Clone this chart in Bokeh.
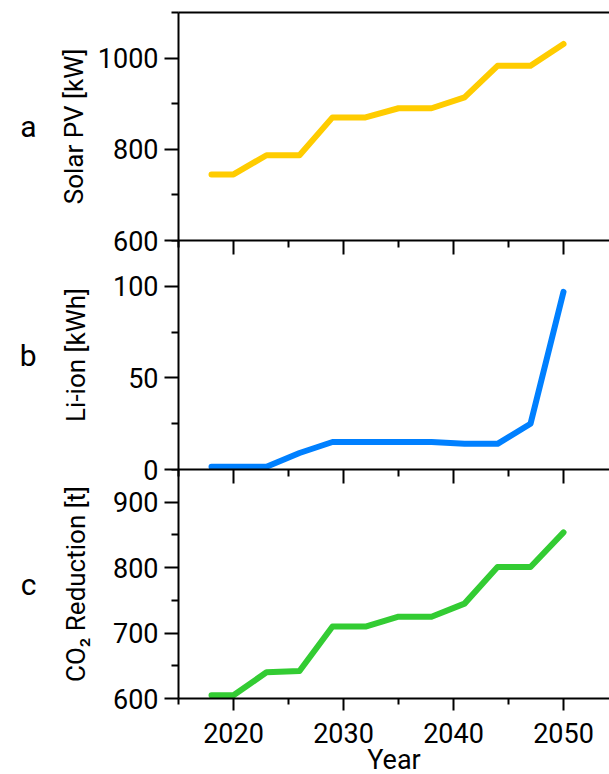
from bokeh.plotting import figure
from bokeh.models import FixedTicker, LinearAxis, Range1d, ColumnDataSource
from bokeh.layouts import column
from bokeh.embed import file_html
from bokeh.resources import INLINE

# ---- data ----
years = [2018, 2020, 2023, 2026, 2029, 2032, 2035, 2038, 2041, 2044, 2047, 2050]
solar_pv_kw = [745, 745, 787, 787, 870, 870, 890, 890, 914, 983, 983, 1031]
li_ion_kwh = [1.5, 1.5, 1.5, 9, 15, 15, 15, 15, 14, 14, 25, 97]
co2_reduction_t = [605, 605, 640, 642, 710, 710, 725, 725, 745, 801, 801, 854]

x_major = [2020, 2030, 2040, 2050]
x_minor = [2015, 2025, 2035, 2045]

solar_major = [600, 800, 1000]
solar_minor = [700, 900, 1100]
li_major = [0, 50, 100]
li_minor = [25, 75, 125]
co2_major = [600, 700, 800, 900]
co2_minor = [650, 750, 850, 950]

FONT = "Roboto"
TICK_SIZE = "27px"
LABEL_SIZE = "26px"
OVERLAP = 70


def make_panel(yr, ymaj, ymin, ylabel, color, values, frame_h,
               panel_letter, letter_standoff, label_standoff,
               border_top, first, last):
    p = figure(frame_width=431, frame_height=frame_h,
               x_range=Range1d(2015, 2054.18), y_range=Range1d(*yr),
               output_backend="svg", toolbar_location=None,
               x_axis_location=None, y_axis_location="left",
               min_border_left=178, min_border_right=0,
               min_border_top=border_top,
               min_border_bottom=0 if last else OVERLAP)
    p.outline_line_color = None
    p.xgrid.visible = False
    p.ygrid.visible = False
    p.background_fill_alpha = 0
    p.border_fill_alpha = 0

    ya = p.yaxis[0]
    ya.ticker = FixedTicker(ticks=ymaj, minor_ticks=ymin)
    ya.major_tick_in = 0
    ya.major_tick_out = 14
    ya.minor_tick_in = 0
    ya.minor_tick_out = 7
    ya.axis_line_width = 2
    ya.major_tick_line_width = 2
    ya.minor_tick_line_width = 2
    ya.axis_line_color = "black"
    ya.major_tick_line_color = "black"
    ya.minor_tick_line_color = "black"
    ya.major_label_text_font = FONT
    ya.major_label_text_font_size = TICK_SIZE
    ya.major_label_text_color = "black"
    ya.major_label_standoff = 6
    ya.axis_label = ylabel
    ya.axis_label_text_font = FONT
    ya.axis_label_text_font_size = LABEL_SIZE
    ya.axis_label_text_font_style = "normal"
    ya.axis_label_text_color = "black"
    ya.axis_label_standoff = label_standoff

    # panel letter: an extra, tick-less left axis carrying only a horizontal label
    letter_axis = LinearAxis(ticker=FixedTicker(ticks=[]),
                             axis_line_color=None, major_tick_out=0, major_tick_in=0,
                             minor_tick_out=0, minor_tick_in=0,
                             axis_label=panel_letter,
                             axis_label_orientation="horizontal",
                             axis_label_text_font=FONT,
                             axis_label_text_font_size="30px",
                             axis_label_text_font_style="normal",
                             axis_label_text_color="black",
                             axis_label_standoff=letter_standoff)
    p.add_layout(letter_axis, "left")

    if first:
        top = LinearAxis(ticker=FixedTicker(ticks=[]), axis_line_width=2,
                         major_tick_out=0, major_tick_in=0,
                         minor_tick_out=0, minor_tick_in=0)
        p.add_layout(top, "above")

    if last:
        bot = LinearAxis(ticker=FixedTicker(ticks=x_major, minor_ticks=x_minor),
                         major_tick_in=0, major_tick_out=12,
                         minor_tick_in=0, minor_tick_out=6,
                         major_tick_line_width=2, minor_tick_line_width=2,
                         axis_line_width=2,
                         major_label_text_font=FONT,
                         major_label_text_font_size=TICK_SIZE,
                         major_label_text_color="black",
                         major_label_standoff=12,
                         axis_label="Year",
                         axis_label_text_font=FONT,
                         axis_label_text_font_size=TICK_SIZE,
                         axis_label_text_font_style="normal",
                         axis_label_text_color="black",
                         axis_label_standoff=-2)
    else:
        # ticks that point down into the panel below; labels not drawn
        bot = LinearAxis(ticker=FixedTicker(ticks=x_major, minor_ticks=x_minor),
                         major_tick_in=0, major_tick_out=14,
                         minor_tick_in=0, minor_tick_out=7,
                         major_tick_line_width=2, minor_tick_line_width=2,
                         axis_line_width=2,
                         major_label_text_font_size=TICK_SIZE,
                         major_label_text_alpha=0,
                         major_label_text_color=None)
    p.add_layout(bot, "below")

    src = ColumnDataSource(data=dict(year=years, val=values))
    p.line(x="year", y="val", source=src, line_width=6, line_color=color,
           line_cap="round", line_join="round")
    return p


pa = make_panel((600, 1100), solar_major, solar_minor, "Solar PV [kW]", "#FFCC00",
                solar_pv_kw, 228, "a", 19, 6, 12, True, False)
pb = make_panel((0, 125), li_major, li_minor, "Li-ion [kWh]", "#0080FF",
                li_ion_kwh, 229, "b", 21, 19, 0, False, False)
pc = make_panel((600, 950), co2_major, co2_minor, "CO\u2082 Reduction [t]", "#33CC33",
                co2_reduction_t, 229, "c", 21, 19, 0, False, True)
pb.margin = (-OVERLAP, 0, 0, 0)
pc.margin = (-OVERLAP, 0, 0, 0)

layout = column(pa, pb, pc, spacing=0)

with open("out.html", "w") as f:
    f.write(file_html(layout, INLINE))
